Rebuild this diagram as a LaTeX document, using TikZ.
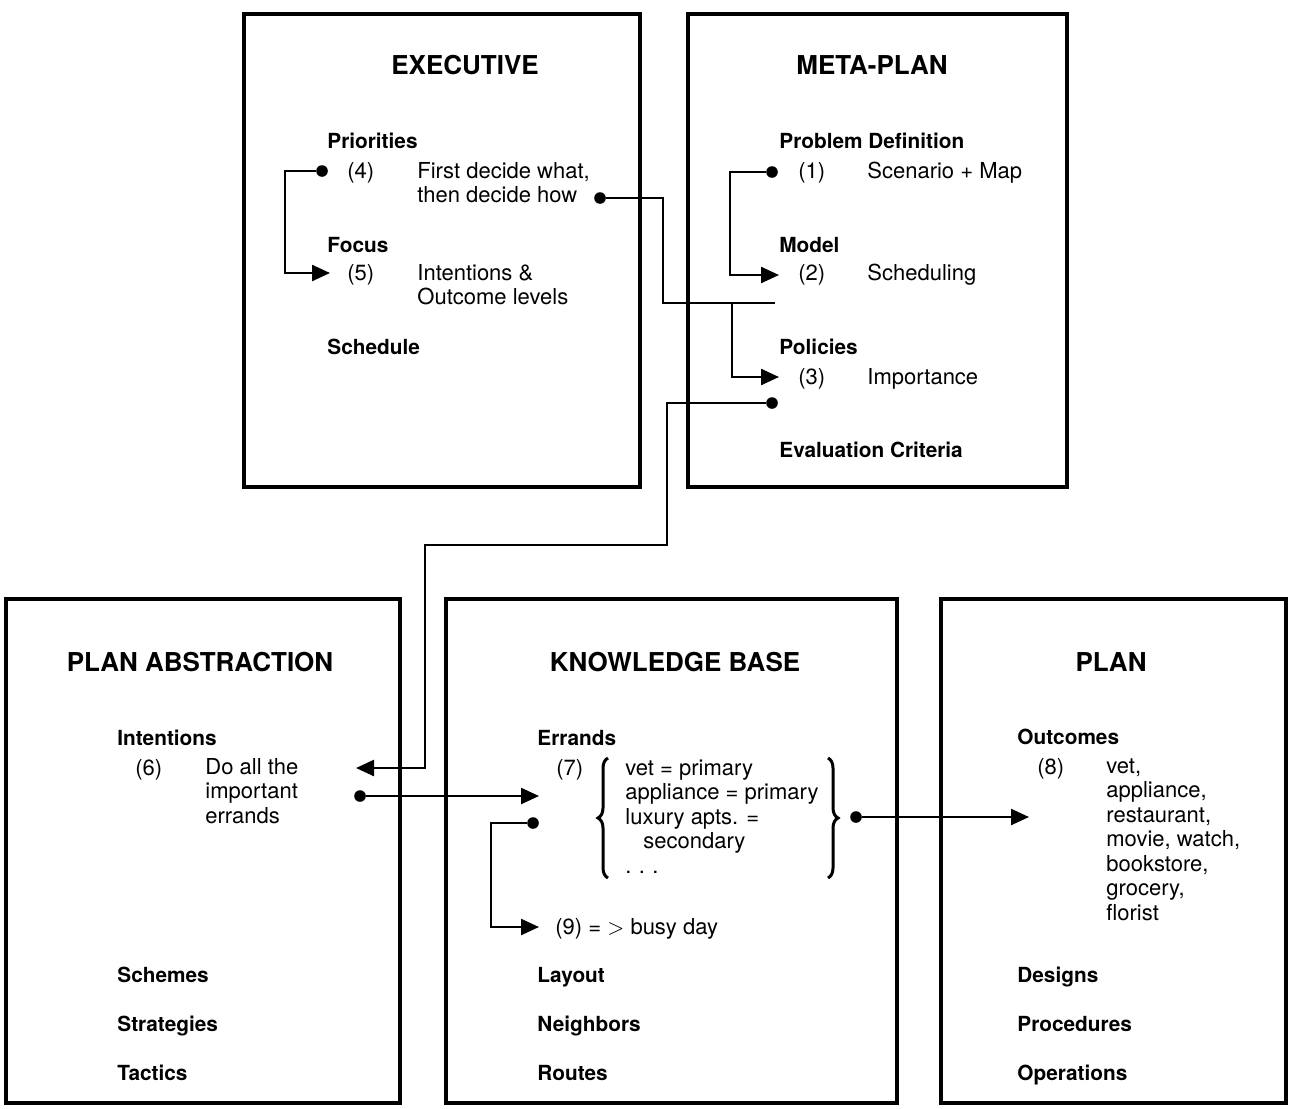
\documentclass[tikz,border=0pt]{standalone}
\usepackage{fontspec}
\setmainfont{TeX Gyre Heros}
\usetikzlibrary{arrows.meta,fit,decorations.pathreplacing}

\tikzset{
  box/.style={draw,line width=2pt,inner sep=0pt},
  title/.style={inner sep=0pt,font=\fontsize{13}{15}\selectfont\bfseries},
  lbl/.style={anchor=base west,inner sep=0pt,font=\fontsize{10.4}{12}\selectfont\bfseries},
  txt/.style={anchor=base west,inner sep=0pt,align=left,font=\fontsize{11}{12.25}\selectfont},
  wire/.style={line width=1.2pt,-{Triangle[length=9pt,width=8pt]}},
  dot/.style={circle,fill,inner sep=0pt,minimum size=5.8pt},
  brc/.style={line width=1.5pt,decorate,decoration={brace,amplitude=5pt}},
}

\begin{document}
\begin{tikzpicture}[x=0.5pt,y=-0.5pt]
\useasboundingbox[fill=white] (0,0) rectangle (1289,1108);
% the five boxes
\node[box,fit={(244,14) (640,487)}] (exec) {};
\node[box,fit={(688,14) (1067,487)}] (meta) {};
\node[box,fit={(6,599) (400,1103)}] (abs) {};
\node[box,fit={(446,599) (897,1103)}] (kb) {};
\node[box,fit={(941,599) (1286,1103)}] (plan) {};

\node[title] (ttexec) at (465,65) {EXECUTIVE};
\node[title] (ttmeta) at (872,65) {META-PLAN};
\node[title] (ttabs) at (200,662) {PLAN ABSTRACTION};
\node[title] (ttkb) at (675,662) {KNOWLEDGE BASE};
\node[title] (ttplan) at (1111,662) {PLAN};

% executive (multi-line texts sit on their last line)
\node[lbl] (prio) at (327,148) {Priorities};
\node[txt] (n4) at (347,178) {(4)};
\node[txt] (t4) at (417,202.5) {First decide what,\\then decide how};
\node[lbl] (focus) at (327,252) {Focus};
\node[txt] (n5) at (347,280) {(5)};
\node[txt] (t5) at (417,304.5) {Intentions \&\\Outcome levels};
\node[lbl] (sched) at (327,354) {Schedule};

% meta-plan
\node[lbl] (probdef) at (779,148) {Problem Definition};
\node[txt] (n1) at (798,178) {(1)};
\node[txt] (t1) at (867,178) {Scenario + Map};
\node[lbl] (model) at (779,252) {Model};
\node[txt] (n2) at (798,280) {(2)};
\node[txt] (t2) at (867,280) {Scheduling};
\node[lbl] (policies) at (779,354) {Policies};
\node[txt] (n3) at (798,384) {(3)};
\node[txt] (t3) at (867,384) {Importance};
\node[lbl] (evalcrit) at (779,457) {Evaluation Criteria};

% plan abstraction
\node[lbl] (intent) at (117,745) {Intentions};
\node[txt] (n6) at (135,775) {(6)};
\node[txt] (t6) at (205,823) {Do all the\\important\\errands};
\node[lbl] (schemes) at (117,982) {Schemes};
\node[lbl] (strat) at (117,1031) {Strategies};
\node[lbl] (tactics) at (117,1080) {Tactics};

% knowledge base
\node[lbl] (errands) at (537,745) {Errands};
\node[txt] (n7) at (556,775) {(7)};
\node[txt] (t7) at (625,873) {vet = primary\\appliance = primary\\luxury apts. =\\\hspace*{9pt}secondary\\.\,\,.\,\,.};
\node[txt] (n9) at (555,934) {(9) = $>$ busy day};
\node[lbl] (layout) at (537,982) {Layout};
\node[lbl] (neigh) at (537,1031) {Neighbors};
\node[lbl] (routes) at (537,1080) {Routes};
\draw[brc] (608,878) -- (608,758);
\draw[brc] (828,758) -- (828,878);

% plan
\node[lbl] (outc) at (1017,744) {Outcomes};
\node[txt] (n8) at (1037,774) {(8)};
\node[txt] (t8) at (1106,920) {vet,\\appliance,\\restaurant,\\movie, watch,\\bookstore,\\grocery,\\florist};
\node[lbl] (designs) at (1017,982) {Designs};
\node[lbl] (proced) at (1017,1031) {Procedures};
\node[lbl] (oper) at (1017,1080) {Operations};

% connectors
\node[dot] (d4) at (322,171) {};
\coordinate (a5) at (330,273);
\draw[wire] (d4) -- ++(-37,0) |- (a5);

\node[dot] (dh) at (600,198) {};
\coordinate (j3) at (663,303);
\coordinate (b3) at (732,303);
\coordinate (e3) at (775,303);
\coordinate (a3) at (779,377);
\draw[line width=1.2pt] (dh) -| (j3) -- (e3);
\draw[wire] (b3) |- (a3);

\node[dot] (d1) at (772,172) {};
\coordinate (a2) at (779,275);
\draw[wire] (d1) -- ++(-42,0) |- (a2);

\node[dot] (dc) at (772,403) {};
\coordinate (k1) at (667,545);
\coordinate (k2) at (425,768);
\coordinate (a6) at (356,768);
\draw[wire] (dc) -| (k1) -| (k2) -- (a6);

\node[dot] (d6) at (360,796) {};
\coordinate (a7) at (539,796);
\draw[wire] (d6) -- (a7);

\node[dot] (d7) at (533,823) {};
\coordinate (a9) at (539,927);
\draw[wire] (d7) -- ++(-42,0) |- (a9);

\node[dot] (d8) at (856,817) {};
\coordinate (a8) at (1029,817);
\draw[wire] (d8) -- (a8);
\end{tikzpicture}
\end{document}
